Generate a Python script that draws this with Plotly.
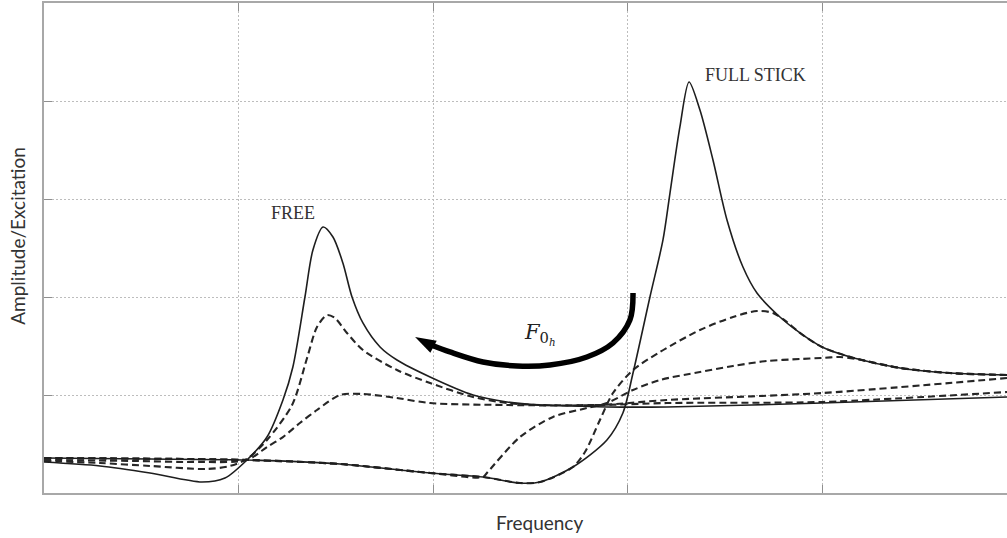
import plotly.graph_objects as go

# ---------------- data (frequency / amplitude-excitation, arbitrary units) ----------------
free_x = [0, 0.288, 0.545, 0.812, 0.930, 1.043, 1.146, 1.228, 1.279, 1.341, 1.382, 1.434, 1.485,
          1.536, 1.583, 1.639, 1.727, 1.814, 1.984, 2.205, 2.379, 2.549, 2.718, 2.893, 3.201, 3.998, 4.949]
free_y = [0.316, 0.276, 0.204, 0.112, 0.153, 0.337, 0.571, 0.949, 1.286, 2.0, 2.480, 2.714, 2.612,
          2.347, 2.0, 1.735, 1.490, 1.357, 1.184, 1.0, 0.929, 0.898, 0.888, 0.878, 0.878, 0.918, 0.980]

stick_x = [0, 0.545, 1.043, 1.521, 1.984, 2.256, 2.446, 2.549, 2.718, 2.893, 2.975, 3.027, 3.114,
           3.181, 3.217, 3.268, 3.315, 3.371, 3.438, 3.510, 3.592, 3.664, 3.782, 3.885, 3.998,
           4.162, 4.399, 4.656, 4.949]
stick_y = [0.357, 0.347, 0.337, 0.296, 0.204, 0.163, 0.102, 0.112, 0.265, 0.541, 0.816, 1.224, 2.0,
           2.582, 3.061, 3.735, 4.194, 3.908, 3.398, 2.786, 2.306, 2.041, 1.796, 1.633, 1.490,
           1.378, 1.276, 1.224, 1.204]

# intermediate contact loads (micro-slip), dashed
d1_x = [0, 0.288, 0.545, 0.838, 0.956, 1.043, 1.146, 1.275, 1.352, 1.403, 1.454, 1.495, 1.557,
        1.639, 1.814, 1.984, 2.205, 2.379, 2.549, 2.857, 3.201, 3.998, 4.949]
d1_y = [0.327, 0.306, 0.276, 0.245, 0.276, 0.347, 0.541, 0.898, 1.378, 1.694, 1.816, 1.786, 1.633,
        1.459, 1.255, 1.122, 0.980, 0.918, 0.898, 0.898, 0.918, 0.929, 1.031]

d2_x = [0, 0.457, 0.802, 1.043, 1.146, 1.228, 1.315, 1.403, 1.521, 1.639, 1.814, 1.984, 2.379,
        2.857, 3.201, 3.998, 4.949]
d2_y = [0.337, 0.327, 0.316, 0.337, 0.469, 0.571, 0.714, 0.847, 1.0, 1.010, 0.969, 0.918, 0.898,
        0.898, 0.949, 1.020, 1.173]

d3_x = [0, 1.043, 1.521, 1.984, 2.256, 2.446, 2.549, 2.718, 2.780, 2.857, 2.924, 3.027, 3.165,
        3.371, 3.541, 3.664, 3.746, 3.818, 3.885, 3.998, 4.162, 4.399, 4.656, 4.949]
d3_y = [0.357, 0.337, 0.296, 0.204, 0.163, 0.102, 0.112, 0.265, 0.418, 0.745, 1.020, 1.255, 1.439,
        1.663, 1.796, 1.857, 1.837, 1.745, 1.633, 1.490, 1.378, 1.276, 1.224, 1.204]

d4_x = [0, 1.043, 1.521, 1.984, 2.256, 2.276, 2.446, 2.616, 2.790, 2.893, 3.027, 3.165,
        3.371, 3.541, 3.715, 3.885, 3.998, 4.090, 4.178, 4.399, 4.656, 4.949]
d4_y = [0.357, 0.337, 0.296, 0.204, 0.163, 0.204, 0.571, 0.776, 0.867, 0.918, 1.051, 1.153,
        1.234, 1.296, 1.347, 1.367, 1.378, 1.388, 1.367, 1.276, 1.224, 1.204]

# curved arrow showing increasing normal load F0h
arrow_x = [3.027, 3.011, 2.924, 2.790, 2.600, 2.431, 2.256, 2.086, 1.990]
arrow_y = [2.041, 1.765, 1.531, 1.388, 1.306, 1.296, 1.337, 1.439, 1.510]
arrow_head_x = [1.907]
arrow_head_y = [1.592]

grid_x = [0, 1, 2, 3, 4]
grid_y = [0, 1, 2, 3, 4, 5]

# ---------------- figure ----------------
fig = go.Figure()

solid = dict(color="#1e1e1e", width=1.6)
dashed = dict(color="#262626", width=2.1, dash="7px,4px")

for xs, ys in [(d1_x, d1_y), (d2_x, d2_y), (d3_x, d3_y), (d4_x, d4_y)]:
    fig.add_trace(go.Scatter(x=xs, y=ys, mode="lines", line=dict(shape="spline", smoothing=0.8, **dashed),
                             showlegend=False, hoverinfo="skip"))
for xs, ys in [(free_x, free_y), (stick_x, stick_y)]:
    fig.add_trace(go.Scatter(x=xs, y=ys, mode="lines", line=dict(shape="spline", smoothing=0.8, **solid),
                             showlegend=False, hoverinfo="skip"))

fig.add_trace(go.Scatter(x=arrow_x, y=arrow_y, mode="lines",
                         line=dict(shape="spline", color="black", width=5.5),
                         showlegend=False, hoverinfo="skip"))
fig.add_trace(go.Scatter(x=arrow_head_x, y=arrow_head_y, mode="markers",
                         marker=dict(symbol="arrow", angle=-62, size=22, color="black",
                                     line=dict(width=0)),
                         showlegend=False, hoverinfo="skip"))

fig.add_annotation(x=1.280, y=2.857, text="FREE", showarrow=False,
                   font=dict(family="Liberation Serif", size=18, color="#333"))
fig.add_annotation(x=3.659, y=4.265, text="FULL STICK", showarrow=False,
                   font=dict(family="Liberation Serif", size=18, color="#333"))
fig.add_annotation(x=2.55, y=1.62, text="<i>F</i><sub>0<sub><i>h</i></sub></sub>", showarrow=False,
                   font=dict(family="DejaVu Serif", size=21, color="#222"))

fig.add_annotation(x=0.515, y=-0.061, xref="paper", yref="paper", xanchor="center", yanchor="middle",
                   text="Frequency", showarrow=False, font=dict(family="Lato", size=19, color="#333"))
fig.add_annotation(x=-0.0275, y=0.524, xref="paper", yref="paper", xanchor="center", yanchor="middle",
                   text="Amplitude/Excitation", textangle=-90, showarrow=False,
                   font=dict(family="Lato", size=19, color="#333"))

axis_common = dict(showgrid=True, gridcolor="#bdbdbd", griddash="2px,2px", gridwidth=1,
                   showline=True, linecolor="#a8a8a8", linewidth=2,
                   ticks="inside", ticklen=8, tickcolor="#8f8f8f", tickwidth=1,
                   showticklabels=False, zeroline=False, fixedrange=True)

fig.update_xaxes(range=[0, 4.949], tickvals=grid_x, mirror="ticks", **axis_common)
fig.update_yaxes(range=[0, 5], tickvals=grid_y, mirror=False, **axis_common)

fig.update_layout(width=1007, height=538, margin=dict(l=44, r=0, t=3, b=45),
                  paper_bgcolor="white", plot_bgcolor="white", showlegend=False)

fig.write_html("out.html", config={"displayModeBar": False},
               post_script="document.body.style.margin='0';document.body.style.overflow='hidden';")
